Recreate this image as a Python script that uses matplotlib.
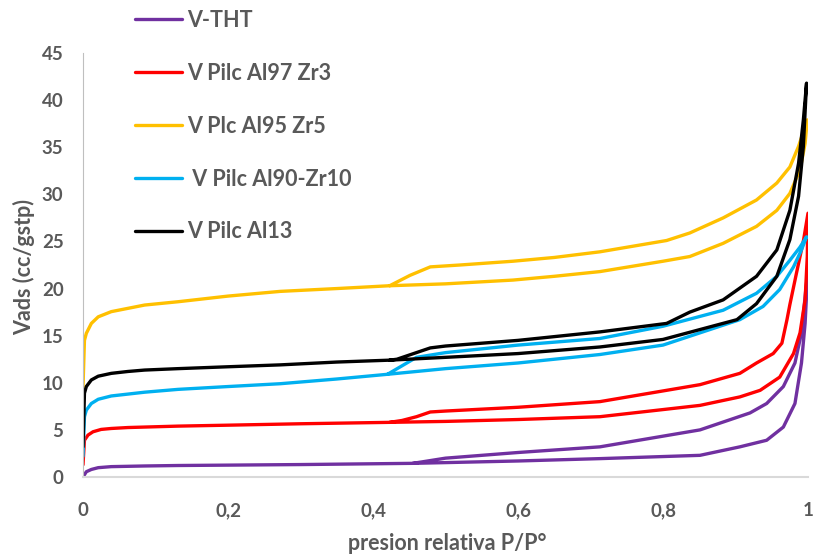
import matplotlib
matplotlib.use("Agg")
import matplotlib.pyplot as plt

# V-THT (purple)
tht_ads_p = [0.0, 0.0046, 0.0115, 0.021, 0.039, 0.085, 0.131, 0.2, 0.3, 0.455, 0.6, 0.713, 0.851, 0.906, 0.943, 0.966, 0.982, 0.991, 0.996, 0.9995]
tht_ads_v = [0.0, 0.56, 0.8, 0.99, 1.1, 1.17, 1.22, 1.26, 1.32, 1.45, 1.7, 1.95, 2.3, 3.2, 3.9, 5.3, 7.8, 12.1, 16.3, 21.6]
tht_des_p = [0.9995, 0.997, 0.991, 0.982, 0.966, 0.943, 0.92, 0.851, 0.713, 0.6, 0.5, 0.455]
tht_des_v = [21.6, 19.9, 15.3, 12.1, 9.6, 7.8, 6.8, 5.0, 3.2, 2.6, 2.0, 1.45]

# V Pilc Al97 Zr3 (red)
r_ads_p = [0.0, 0.002, 0.0069, 0.0138, 0.025, 0.039, 0.062, 0.085, 0.131, 0.2, 0.3, 0.423, 0.5, 0.6, 0.713, 0.851, 0.906, 0.934, 0.961, 0.980, 0.989, 0.996, 0.999, 1.0]
r_ads_v = [1.3, 3.9, 4.45, 4.8, 5.05, 5.15, 5.25, 5.3, 5.4, 5.5, 5.65, 5.8, 5.9, 6.1, 6.4, 7.6, 8.5, 9.2, 10.6, 13.1, 15.3, 18.8, 23.4, 28.0]
r_des_p = [1.0, 0.994, 0.989, 0.984, 0.975, 0.971, 0.964, 0.952, 0.929, 0.906, 0.851, 0.713, 0.6, 0.5, 0.479, 0.46, 0.44, 0.423]
r_des_v = [28.0, 25.2, 23.4, 21.6, 18.3, 16.7, 14.2, 13.1, 12.1, 11.0, 9.8, 8.0, 7.4, 7.0, 6.9, 6.4, 6.0, 5.8]

# V Plc Al95 Zr5 (yellow)
y_ads_p = [0.0, 0.002, 0.0046, 0.0115, 0.021, 0.039, 0.062, 0.085, 0.131, 0.2, 0.272, 0.35, 0.423, 0.5, 0.593, 0.65, 0.713, 0.8, 0.837, 0.883, 0.929, 0.957, 0.975, 0.989, 0.996, 0.999]
y_ads_v = [9.5, 14.5, 15.25, 16.3, 17.0, 17.55, 17.9, 18.25, 18.6, 19.2, 19.7, 20.0, 20.3, 20.5, 20.9, 21.3, 21.8, 22.9, 23.4, 24.8, 26.6, 28.3, 30.1, 32.6, 35.4, 37.9]
y_des_p = [0.999, 0.996, 0.987, 0.975, 0.957, 0.929, 0.883, 0.837, 0.805, 0.713, 0.65, 0.593, 0.52, 0.479, 0.451, 0.423]
y_des_v = [37.9, 37.2, 35.1, 32.9, 31.2, 29.4, 27.5, 25.9, 25.1, 23.9, 23.3, 22.9, 22.5, 22.3, 21.4, 20.3]

# V Pilc Al90-Zr10 (cyan)
c_ads_p = [0.0, 0.002, 0.0046, 0.0115, 0.021, 0.039, 0.062, 0.085, 0.131, 0.2, 0.272, 0.35, 0.42, 0.5, 0.6, 0.713, 0.8, 0.906, 0.938, 0.961, 0.980, 0.991, 0.998]
c_ads_v = [2.2, 6.4, 7.1, 7.8, 8.25, 8.6, 8.8, 9.0, 9.3, 9.6, 9.9, 10.4, 10.9, 11.5, 12.1, 13.0, 14.0, 16.7, 18.1, 19.9, 22.3, 24.1, 25.5]
c_des_p = [0.998, 0.989, 0.975, 0.957, 0.929, 0.883, 0.8, 0.713, 0.6, 0.5, 0.46, 0.44, 0.42]
c_des_v = [25.5, 24.4, 23.0, 21.3, 19.5, 17.7, 16.0, 14.7, 14.0, 13.2, 12.7, 11.8, 10.9]

# V Pilc Al13 (black)
k_ads_p = [0.0, 0.002, 0.0046, 0.0115, 0.021, 0.039, 0.062, 0.085, 0.131, 0.2, 0.272, 0.35, 0.423, 0.5, 0.6, 0.713, 0.8, 0.902, 0.929, 0.957, 0.975, 0.987, 0.9936, 0.998]
k_ads_v = [3.2, 8.9, 9.6, 10.3, 10.7, 11.0, 11.2, 11.35, 11.5, 11.7, 11.9, 12.2, 12.4, 12.7, 13.1, 13.8, 14.6, 16.7, 18.4, 21.3, 25.2, 29.8, 35.1, 41.8]
k_des_p = [0.998, 0.9936, 0.987, 0.975, 0.957, 0.929, 0.883, 0.837, 0.805, 0.713, 0.6, 0.5, 0.479, 0.456, 0.433, 0.423]
k_des_v = [41.8, 37.9, 33.3, 28.3, 24.1, 21.3, 18.8, 17.5, 16.3, 15.4, 14.5, 13.9, 13.7, 13.1, 12.5, 12.4]

series = [
    ("V-THT", "#7030A0", tht_ads_p + tht_des_p, tht_ads_v + tht_des_v),
    ("V Pilc Al97 Zr3", "#FF0000", r_ads_p + r_des_p, r_ads_v + r_des_v),
    ("V Plc Al95 Zr5", "#FFC000", y_ads_p + y_des_p, y_ads_v + y_des_v),
    (" V Pilc Al90-Zr10", "#00B0F0", c_ads_p + c_des_p, c_ads_v + c_des_v),
    ("V Pilc Al13", "#000000", k_ads_p + k_des_p, k_ads_v + k_des_v),
]

x_ticks = [0, 0.2, 0.4, 0.6, 0.8, 1]
x_labels = ["0", "0,2", "0,4", "0,6", "0,8", "1"]
y_ticks = [0, 5, 10, 15, 20, 25, 30, 35, 40, 45]

plt.rcParams['font.family'] = ['Lato', 'DejaVu Sans']
grey = '#595959'

fig = plt.figure(figsize=(8.13, 5.56), dpi=100)
ax = fig.add_axes([83 / 813, 1 - 477 / 556, 725 / 813, 424 / 556])

handles = []
for label, color, p, v in series:
    line, = ax.plot(p, v, color=color, linewidth=2.4, label=label,
                    solid_capstyle='round', solid_joinstyle='round')
    handles.append(line)

ax.set_xlim(0, 1)
ax.set_ylim(0, 45)
ax.set_xticks(x_ticks)
ax.set_xticklabels(x_labels)
ax.set_yticks(y_ticks)
ax.tick_params(axis='both', length=0, labelsize=13.5, labelcolor=grey)
ax.tick_params(axis='x', pad=18)
ax.tick_params(axis='y', pad=14)
for t in ax.get_xticklabels() + ax.get_yticklabels():
    t.set_fontweight('bold')

for s in ['top', 'right']:
    ax.spines[s].set_visible(False)
ax.spines['left'].set_color('#bfbfbf')
ax.spines['left'].set_linewidth(0.8)
ax.spines['bottom'].set_color('#d9d9d9')
ax.spines['bottom'].set_linewidth(1.5)

ax.set_xlabel('presion relativa P/P°', fontsize=15.5, fontweight='bold', color=grey)
ax.set_ylabel('Vads (cc/gstp)', fontsize=15.5, fontweight='bold', color=grey)
ax.xaxis.set_label_coords(0.503, -0.132)
ax.yaxis.set_label_coords(-0.066, 0.495)

leg = fig.legend(handles=handles, loc='upper left', bbox_to_anchor=(135 / 813, 1 - 10 / 556),
                 frameon=False, fontsize=15.5, handlelength=2.18, handletextpad=0.23,
                 labelspacing=1.48, borderpad=0, borderaxespad=0)
for t in leg.get_texts():
    t.set_color(grey)
    t.set_fontweight('bold')

fig.savefig('out.png', dpi=100, facecolor='white')
